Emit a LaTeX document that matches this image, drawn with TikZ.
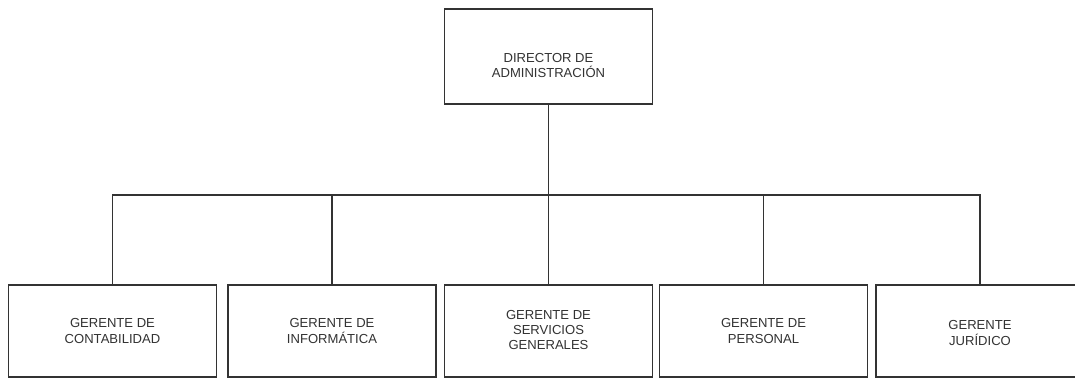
\documentclass[tikz,border=0pt]{standalone}
\usepackage{fontspec}
\setmainfont{Liberation Sans}
\definecolor{linec}{HTML}{333333}
\definecolor{textc}{HTML}{333333}
\tikzset{
  orgbox/.style={draw=linec, line width=1.2pt, fill=white, minimum width=208*0.75pt, inner sep=0pt},
  topbox/.style={orgbox, minimum height=95*0.75pt},
  lowbox/.style={orgbox, minimum height=92*0.75pt},
  lbl/.style={text=textc, align=center, font=\fontsize{9.8pt}{11.3pt}\selectfont, inner sep=0pt},
  conn/.style={draw=linec, line width=1.2pt}
}
\begin{document}
\begin{tikzpicture}[x=0.75pt,y=-0.75pt]
\fill[white] (0,0) rectangle (1075,378);
\clip (0,0) rectangle (1075,378);
\node[topbox] (dir) at (548.5,56.5) {};
\node[lbl] (dirt) at (548.5,65.5) {DIRECTOR DE\\ADMINISTRACIÓN};
\node[lowbox] (a) at (112.5,331) {};
\node[lowbox] (b) at (332,331) {};
\node[lowbox] (c) at (548.5,331) {};
\node[lowbox] (d) at (763.5,331) {};
\node[lowbox] (e) at (980,331) {};
\node[lbl] at (a.center) {GERENTE DE\\CONTABILIDAD};
\node[lbl] at (b.center) {GERENTE DE\\INFORMÁTICA};
\node[lbl] at ([yshift=0.75pt]c.center) {GERENTE DE\\SERVICIOS\\GENERALES};
\node[lbl] at (d.center) {GERENTE DE\\PERSONAL};
\node[lbl] at ([yshift=-1.5pt]e.center) {GERENTE\\JURÍDICO};
\coordinate (bus) at (548.5,195);
\draw[conn] (a.north) |- (bus) -| (e.north);
\draw[conn] (b.north) -- (b.north |- bus);
\draw[conn] (d.north) -- (d.north |- bus);
\draw[conn] (dir.south) -- (c.north);
\end{tikzpicture}
\end{document}
